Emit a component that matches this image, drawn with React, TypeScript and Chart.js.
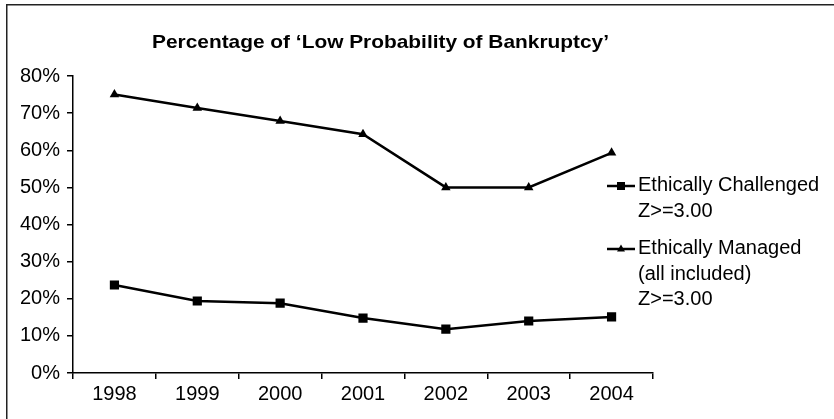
import React, { useEffect, useRef } from "react";
import { Chart, registerables } from "chart.js";

Chart.register(...registerables);

const categories = ["1998", "1999", "2000", "2001", "2002", "2003", "2004"];
const challengedValues = [23.7, 19.4, 18.8, 14.8, 11.8, 14.0, 15.1];
const managedValues = [75.0, 71.4, 67.9, 64.3, 50.0, 50.0, 59.3];
const yMin = 0;
const yMax = 80;
const yStep = 10;
const titleText = "Percentage of \u2018Low Probability of Bankruptcy\u2019";
const challengedLegend = ["Ethically Challenged", "Z>=3.00"];
const managedLegend = ["Ethically Managed", "(all included)", "Z>=3.00"];

const FONT = "'Liberation Sans', Arial, Helvetica, sans-serif";

const decorPlugin = {
  id: "decor",
  afterDraw(chart: any) {
    const ctx = chart.ctx as CanvasRenderingContext2D;
    const area = chart.chartArea;
    ctx.save();
    // frame (top and left edges)
    ctx.fillStyle = "#222";
    ctx.fillRect(6, 4, 1.5, chart.height - 4);
    ctx.fillRect(6, 4, chart.width - 6, 1.5);

    // title
    ctx.fillStyle = "#000";
    ctx.font = `bold 19px ${FONT}`;
    ctx.textAlign = "left";
    ctx.textBaseline = "alphabetic";
    const tw = ctx.measureText(titleText).width;
    const targetW = 457;
    ctx.save();
    ctx.translate(152, 48);
    ctx.scale(targetW / tw, 1);
    ctx.fillText(titleText, 0, 0);
    ctx.restore();

    // legend
    const lx = area.right - 46;
    const tx = area.right - 15;
    ctx.font = `20px ${FONT}`;
    const groups = [
      { lines: challengedLegend, y: 186, style: "rect" },
      { lines: managedLegend, y: 249, style: "triangle" },
    ];
    groups.forEach((g) => {
      ctx.strokeStyle = "#000";
      ctx.lineWidth = 2.5;
      ctx.beginPath();
      ctx.moveTo(lx, g.y);
      ctx.lineTo(lx + 28, g.y);
      ctx.stroke();
      const cx = lx + 14;
      ctx.fillStyle = "#000";
      if (g.style === "rect") {
        ctx.fillRect(cx - 4, g.y - 4, 8, 8);
      } else {
        ctx.beginPath();
        ctx.moveTo(cx, g.y - 4.5);
        ctx.lineTo(cx + 4, g.y + 2.5);
        ctx.lineTo(cx - 4, g.y + 2.5);
        ctx.closePath();
        ctx.fill();
      }
      g.lines.forEach((t, i) => {
        ctx.fillText(t, tx, g.y + 5 + i * 25.5);
      });
    });
    ctx.restore();
  },
};

export default function App() {
  const ref = useRef<HTMLCanvasElement | null>(null);
  useEffect(() => {
    if (!ref.current) return;
    const chart = new Chart(ref.current, {
      type: "line",
      data: {
        labels: categories,
        datasets: [
          {
            label: challengedLegend.join(" "),
            data: challengedValues,
            borderColor: "#000",
            backgroundColor: "#000",
            borderWidth: 2.5,
            pointStyle: "rect",
            pointRadius: 6.5,
            pointBorderWidth: 0,
            pointBackgroundColor: "#000",
            tension: 0,
          },
          {
            label: managedLegend.join(" "),
            data: managedValues,
            borderColor: "#000",
            backgroundColor: "#000",
            borderWidth: 2.5,
            pointStyle: "triangle",
            pointRadius: 5.5,
            pointBorderWidth: 0,
            pointBackgroundColor: "#000",
            tension: 0,
          },
        ],
      },
      options: {
        animation: false,
        responsive: false,
        devicePixelRatio: 1,
        layout: { padding: { top: 76, right: 181, bottom: 0, left: 0 } },
        plugins: {
          legend: { display: false },
          title: { display: false },
          tooltip: { enabled: false },
        },
        scales: {
          x: {
            type: "category",
            offset: true,
            grid: {
              offset: true,
              drawOnChartArea: false,
              drawTicks: true,
              tickLength: 6,
              color: "#000",
              lineWidth: 1.5,
            },
            border: { display: true, color: "#000", width: 1.5 },
            ticks: {
              color: "#000",
              font: { family: FONT, size: 20 },
              padding: 3,
              maxRotation: 0,
              autoSkip: false,
            },
            afterFit: (s: any) => {
              s.height = 46;
            },
          },
          y: {
            min: yMin,
            max: yMax,
            grid: {
              drawOnChartArea: false,
              drawTicks: true,
              tickLength: 6,
              color: "#000",
              lineWidth: 1.5,
            },
            border: { display: true, color: "#000", width: 1.5 },
            ticks: {
              stepSize: yStep,
              color: "#000",
              font: { family: FONT, size: 20 },
              padding: 7,
              callback: (v: any) => `${v}%`,
            },
            afterFit: (s: any) => {
              s.width = 73;
            },
          },
        },
      },
      plugins: [decorPlugin],
    });
    return () => chart.destroy();
  }, []);
  return (
    <div
      style={{
        position: "fixed",
        left: 0,
        top: 0,
        width: 834,
        height: 419,
        background: "#fff",
      }}
    >
      <canvas ref={ref} width={834} height={419} />
    </div>
  );
}
